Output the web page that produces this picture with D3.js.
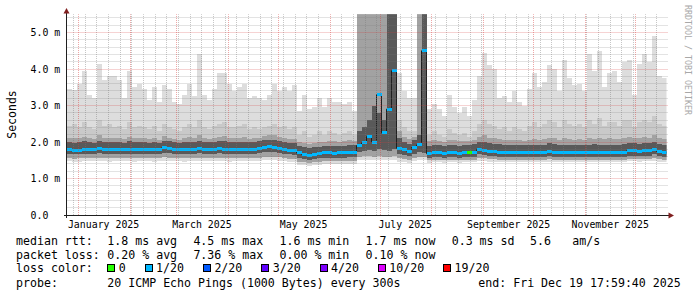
<!DOCTYPE html>
<html><head><meta charset="utf-8">
<script src="https://cdn.jsdelivr.net/npm/d3@7"></script>
<style>html,body{margin:0;padding:0;background:#fff;overflow:hidden}</style>
</head><body>
<svg id="c" width="697" height="297" xmlns="http://www.w3.org/2000/svg"></svg>
<script>
// ---------- DATA (3-day bins, 360 days ending at endTime) ----------
const endTimeUTC = [2025, 11, 19, 17, 59, 40];
const spanDays = 360, binDays = 3;

const maxR = [3.44,3.42,3.6,3.95,3.3,3.2,4.15,3.7,3.8,3.8, 3.7,3.2,3.94,3.5,3.6,3.45,3.15,3.5,3.1,3.55,
  3.45,3.1,3.05,3.3,3.6,3.25,4.4,3.3,3.15,3.45, 3.9,3.9,3.6,3.4,3.5,3.6,3.2,3.25,3.2,3.15,
  3.3,3.6,3.4,3.5,3.4,3.55,
  2.85,3.3,2.9,2.95,3.2,2.95,3.2,3.1,3.1,3.05,3.1,2.85,
  8,8,8,8,8,8,8,8,
  3.9,3.4,3.2,3.2,
  8,8,
  2.9,3.05,2.9,2.7,3.3,2.95,2.8,2.95,
  2.7,3.15,3.8,4.45,4.1,4.0,3.2,3.25,3.1,3.4,
  3.1,3.0,3.45,3.9,3.5,3.65,4.1,4.0,3.4,4.25,
  3.75,3.55,3.6,3.4,4.4,3.95,4.5,3.5,3.9,3.95,
  3.65,4.2,4.25,3.3,4.15,4.4,4.2,4.9,3.8,3.75];

const hiR = [2.45,2.5,2.4,2.55,2.4,2.35,2.6,2.45,2.5,2.4, 2.45,2.35,2.55,2.4,2.45,2.4,2.35,2.45,2.3,2.5,
  2.4,2.35,2.3,2.4,2.5,2.4,2.6,2.4,2.35,2.45, 2.5,2.55,2.4,2.4,2.45,2.5,2.35,2.4,2.35,2.4,
  2.45,2.5,2.4,2.45,2.35,2.4,
  2.2,2.3,2.15,2.2,2.3,2.2,2.3,2.25,2.2,2.25,2.3,2.2,
  8,8,8,8,8,8,8,8,
  2.6,2.4,2.3,2.3,
  8,8,
  2.2,2.3,2.2,2.15,2.35,2.25,2.2,2.25,
  2.15,2.3,2.5,2.6,2.5,2.45,2.35,2.4,2.3,2.4,
  2.35,2.3,2.45,2.55,2.4,2.5,2.6,2.55,2.4,2.6,
  2.5,2.45,2.5,2.4,2.6,2.5,2.65,2.45,2.55,2.55,
  2.45,2.6,2.6,2.4,2.55,2.6,2.55,2.7,2.5,2.45];

const midR = [2.12,2.1,2.1,2.15,2.1,2.08,2.18,2.12,2.12,2.1, 2.12,2.08,2.15,2.1,2.12,2.1,2.08,2.12,2.06,2.16,
  2.12,2.08,2.06,2.1,2.14,2.1,2.2,2.1,2.08,2.12, 2.15,2.16,2.1,2.1,2.12,2.14,2.08,2.1,2.12,2.16,
  2.18,2.18,2.14,2.12,2.08,2.08,
  2.0,1.98,1.95,1.98,2.0,2.0,2.02,2.02,2.0,2.02,2.05,2.04,
  8,8,8,8,8,8,8,8,
  2.3,2.15,2.08,2.15,
  8,8,
  2.02,2.05,2.04,2.0,2.06,2.05,2.02,2.04,
  2.02,2.06,2.15,2.18,2.12,2.1,2.07,2.05,2.05,2.06,
  2.05,2.04,2.06,2.08,2.06,2.08,2.12,2.1,2.06,2.1,
  2.08,2.06,2.08,2.06,2.1,2.08,2.12,2.08,2.1,2.08,
  2.08,2.1,2.14,2.12,2.12,2.14,2.12,2.18,2.1,2.08];

const upR = [2.0,1.98,2.0,2.02,2.0,1.98,2.03,2.0,2.0,1.99, 2.0,1.98,2.02,2.0,2.0,2.0,1.98,2.0,1.98,2.03,
  2.02,2.0,1.98,2.0,2.0,2.0,2.03,2.0,1.99,2.0, 2.02,2.02,2.0,2.0,2.0,2.01,2.0,2.0,2.02,2.05,
  2.06,2.05,2.03,2.0,1.98,1.97,
  1.9,1.86,1.84,1.86,1.87,1.88,1.9,1.9,1.88,1.9,1.92,1.92,
  2.3,2.4,2.6,3.0,2.8,2.6,8,8,
  2.1,2.0,1.95,2.05,
  2.2,8,
  1.9,1.92,1.92,1.9,1.92,1.92,1.9,1.92,
  1.92,1.94,2.0,2.0,1.96,1.95,1.94,1.92,1.92,1.92,
  1.92,1.92,1.92,1.92,1.92,1.93,1.96,1.94,1.93,1.92,
  1.92,1.93,1.93,1.93,1.93,1.94,1.92,1.93,1.93,1.92,
  1.93,1.94,1.96,1.96,1.95,1.96,1.96,2.0,1.95,1.93];

const medianR = [1.8,1.76,1.78,1.8,1.79,1.8,1.81,1.8,1.79,1.8, 1.8,1.8,1.8,1.79,1.8,1.8,1.8,1.79,1.8,1.84,
  1.82,1.8,1.8,1.79,1.8,1.8,1.81,1.8,1.8,1.8, 1.81,1.8,1.79,1.8,1.8,1.8,1.8,1.8,1.81,1.86,
  1.87,1.86,1.83,1.8,1.78,1.77,
  1.7,1.66,1.64,1.67,1.68,1.7,1.7,1.69,1.7,1.7,1.72,1.72,
  1.9,1.98,2.15,2.0,3.3,2.25,2.9,3.95,
  1.83,1.8,1.75,1.85,
  1.92,4.5,
  1.68,1.7,1.7,1.69,1.7,1.7,1.69,1.7,
  1.7,1.72,1.8,1.78,1.74,1.73,1.72,1.7,1.7,1.7,
  1.7,1.7,1.7,1.7,1.7,1.71,1.74,1.72,1.71,1.7,
  1.7,1.71,1.71,1.7,1.71,1.72,1.7,1.71,1.7,1.7,
  1.71,1.72,1.76,1.76,1.75,1.76,1.76,1.8,1.74,1.71];

const loR = [1.68,1.66,1.67,1.68,1.68,1.68,1.69,1.68,1.67,1.68, 1.68,1.68,1.68,1.67,1.68,1.68,1.68,1.67,1.68,1.7,
  1.69,1.68,1.68,1.67,1.68,1.68,1.69,1.68,1.68,1.68, 1.69,1.68,1.67,1.68,1.68,1.68,1.68,1.68,1.69,1.72,
  1.72,1.72,1.7,1.68,1.66,1.65,
  1.56,1.53,1.52,1.54,1.55,1.56,1.57,1.56,1.57,1.57,1.58,1.58,
  1.72,1.75,1.78,1.75,1.8,1.78,1.76,1.8,
  1.66,1.65,1.62,1.68,
  1.72,1.7,
  1.57,1.58,1.58,1.57,1.58,1.58,1.57,1.58,
  1.58,1.6,1.66,1.64,1.62,1.61,1.6,1.58,1.58,1.58,
  1.58,1.58,1.58,1.58,1.58,1.59,1.61,1.6,1.59,1.58,
  1.58,1.59,1.59,1.58,1.59,1.6,1.58,1.59,1.58,1.58,
  1.59,1.6,1.63,1.63,1.62,1.63,1.63,1.66,1.61,1.59];

const lowR = [1.56,1.54,1.55,1.56,1.56,1.56,1.57,1.56,1.55,1.56, 1.56,1.56,1.56,1.55,1.56,1.56,1.56,1.55,1.56,1.58,
  1.57,1.56,1.56,1.55,1.56,1.56,1.57,1.56,1.56,1.56, 1.57,1.56,1.55,1.56,1.56,1.56,1.56,1.56,1.57,1.6,
  1.6,1.6,1.58,1.56,1.54,1.53,
  1.46,1.44,1.43,1.45,1.46,1.47,1.48,1.47,1.48,1.48,1.49,1.49,
  1.6,1.62,1.62,1.6,1.62,1.6,1.6,1.62,
  1.55,1.54,1.52,1.56,
  1.58,1.58,
  1.5,1.51,1.51,1.5,1.51,1.51,1.5,1.51,
  1.51,1.52,1.56,1.55,1.53,1.53,1.52,1.51,1.51,1.51,
  1.51,1.51,1.51,1.51,1.51,1.52,1.53,1.52,1.52,1.51,
  1.51,1.52,1.52,1.51,1.52,1.52,1.51,1.52,1.51,1.51,
  1.52,1.52,1.54,1.54,1.53,1.54,1.54,1.56,1.53,1.52];

const minR = [1.47,1.45,1.46,1.47,1.47,1.47,1.48,1.47,1.46,1.47, 1.47,1.47,1.47,1.46,1.47,1.47,1.47,1.46,1.47,1.49,
  1.48,1.47,1.47,1.46,1.47,1.47,1.48,1.47,1.47,1.47, 1.48,1.47,1.46,1.47,1.47,1.47,1.47,1.47,1.48,1.5,
  1.5,1.5,1.49,1.47,1.45,1.44,
  1.38,1.36,1.35,1.37,1.38,1.39,1.4,1.39,1.4,1.4,1.41,1.41,
  1.5,1.52,1.52,1.5,1.5,1.5,1.5,1.52,
  1.46,1.45,1.43,1.47,
  1.5,1.5,
  1.43,1.44,1.44,1.43,1.44,1.44,1.43,1.44,
  1.44,1.45,1.48,1.47,1.46,1.46,1.45,1.44,1.44,1.44,
  1.44,1.44,1.44,1.44,1.44,1.45,1.46,1.45,1.45,1.44,
  1.44,1.45,1.45,1.44,1.45,1.45,1.44,1.45,1.44,1.44,
  1.45,1.45,1.47,1.47,1.46,1.47,1.47,1.49,1.46,1.45];

// average lost pings (of 20) per bin
const lossR = [0.04,0.04,0.02,0.04,0.06,0.04,0.04,0.02,0.04,0.04, 0.04,0.06,0.04,0.04,0.02,0.04,0.04,0.04,0.06,0.04,
  0.04,0.04,0.02,0.04,0.04,0.06,0.04,0.04,0.04,0.02, 0.04,0.04,0.04,0.06,0.04,0.04,0.02,0.04,0.04,0.04,
  0.06,0.04,0.04,0.04,0.02,0.04,
  0.04,0.04,0.06,0.04,0.04,0.02,0.04,0.04,0.04,0.06,0.04,0.04,
  0.3,0.4,0.5,0.6,0.9,0.5,0.7,0.8,
  0.06,0.04,0.04,0.06,
  0.4,0.8,
  0.04,0.04,0.02,0.04,0.04,0.06,0.04,0.04,
  0,0.04,0.06,0.04,0.04,0.02,0.04,0.04,0.04,0.06,
  0.04,0.04,0.02,0.04,0.04,0.04,0.06,0.04,0.04,0.02,
  0.04,0.04,0.04,0.06,0.04,0.04,0.02,0.04,0.04,0.04,
  0.06,0.04,0.04,0.04,0.02,0.04,0.04,0.06,0.04,0.04];

const yMajorTicks = [1, 2, 3, 4, 5];
const yTickValues = [0, 1, 2, 3, 4, 5];
const yTickLabels = ["0.0", "1.0 m", "2.0 m", "3.0 m", "4.0 m", "5.0 m"];
const monthLabels = ["January 2025", "March 2025", "May 2025", "July 2025", "September 2025", "November 2025"];

const lossThresholds = [0, 1, 2, 3, 4, 10, 19];
const lossLabels = ["0", "1/20", "2/20", "3/20", "4/20", "10/20", "19/20"];
const lossColors = ["#26ff00", "#00b8ff", "#0059ff", "#5e00ff", "#7e00ff", "#dd00ff", "#ff0000"];

const legendMedian = ["median rtt:", "1.8 ms avg", "4.5 ms max", "1.6 ms min", "1.7 ms now", "0.3 ms sd", "5.6", "am/s"];
const legendLoss = ["packet loss:", "0.20 % avg", "7.36 % max", "0.00 % min", "0.10 % now"];
const legendProbe = ["probe:", "20 ICMP Echo Pings (1000 Bytes) every 300s", "end: Fri Dec 19 17:59:40 2025"];
const legendLossTitle = "loss color:";
const yTitle = "Seconds";
const watermark = "RRDTOOL / TOBI OETIKER";

// ---------- DRAW ----------
const svg = d3.select("#c");
const MONO = "'DejaVu Sans Mono', 'Liberation Mono', monospace";
const X0 = 66.5, X1 = 666.5, YB = 215, YT = 14.25;
const DAY = 864e5;
const endTime = new Date(Date.UTC(...endTimeUTC));
const startTime = new Date(endTime.getTime() - spanDays * DAY);

const x = d3.scaleTime().domain([startTime, endTime]).range([X0, X1]);
const y = d3.scaleLinear().domain([0, 5.5]).range([YB, YT]);

svg.append("rect").attr("width", 697).attr("height", 297).attr("fill", "#ffffff");

const defs = svg.append("defs");
defs.append("clipPath").attr("id", "clip").append("rect")
  .attr("x", X0).attr("y", YT).attr("width", X1 - X0).attr("height", YB - YT);

const N = medianR.length;
const data = d3.range(N).map(i => ({
  t: new Date(startTime.getTime() + i * binDays * DAY),
  t2: new Date(Math.min(startTime.getTime() + (i + 1) * binDays * DAY, endTime.getTime())),
  max: maxR[i], hi: hiR[i], mid: midR[i], up: upR[i], med: medianR[i], lo: loR[i], low: lowR[i], min: minR[i], loss: lossR[i]
}));
const stepData = data.concat([Object.assign({}, data[N - 1], {t: endTime})]);

const plot = svg.append("g").attr("clip-path", "url(#clip)");
const cap = v => Math.min(v, 6);
function band(loKey, hiKey, color) {
  plot.append("path").datum(stepData)
    .attr("fill", color)
    .attr("shape-rendering", "crispEdges")
    .attr("d", d3.area().curve(d3.curveStepAfter)
      .x(d => x(d.t)).y0(d => y(d[loKey])).y1(d => y(cap(d[hiKey]))));
}
band("min", "max", "#dddddd");
band("low", "hi", "#c9c9c9");
band("low", "mid", "#a2a2a2");
band("lo", "up", "#595959");

// dark median line
plot.append("path").datum(stepData)
  .attr("fill", "none").attr("stroke", "#202020").attr("stroke-width", 1)
  .attr("d", d3.line().curve(d3.curveStepAfter).x(d => x(d.t)).y(d => y(cap(d.med))));

// loss-coloured median marks
function lossColor(l) {
  if (l <= lossThresholds[0]) return lossColors[0];
  for (let k = 1; k < lossThresholds.length; k++) {
    if (l <= lossThresholds[k]) return lossColors[k];
  }
  return lossColors[lossColors.length - 1];
}
plot.selectAll("rect.med").data(data).join("rect")
  .attr("class", "med")
  .attr("x", d => x(d.t)).attr("width", d => x(d.t2) - x(d.t))
  .attr("y", d => y(d.med) - 1.5).attr("height", 3)
  .attr("fill", d => lossColor(d.loss))
  .attr("shape-rendering", "crispEdges");

// ---------- GRID (drawn on top, as rrdtool does) ----------
const grid = svg.append("g");
const minorCol = "rgba(120,120,120,0.42)", majorCol = "rgba(215,60,60,0.45)";
const hy = v => Math.floor(y(v)) + 0.5;
const vx = d => Math.floor(x(d)) + 0.5;
const monthStarts = d3.utcMonth.range(d3.utcMonth.ceil(startTime), endTime);
const sundays = d3.utcSunday.range(d3.utcSunday.ceil(startTime), endTime)
  .filter(s => !monthStarts.some(m => Math.abs(vx(m) - vx(s)) < 1));
const minorY = d3.range(1, 28).map(k => k * 0.2).filter(v => Math.abs(v - Math.round(v)) > 1e-6);

grid.selectAll("line.hmin").data(minorY).join("line")
  .attr("x1", X0).attr("x2", X1 + 1.5).attr("y1", hy).attr("y2", hy)
  .attr("stroke", minorCol).attr("stroke-dasharray", "1,1");
grid.selectAll("line.vmin").data(sundays).join("line")
  .attr("x1", vx).attr("x2", vx).attr("y1", YB).attr("y2", YT)
  .attr("stroke", minorCol).attr("stroke-dasharray", "1,1");
grid.selectAll("line.hmaj").data(yMajorTicks).join("line")
  .attr("x1", X0).attr("x2", X1 + 1.5).attr("y1", hy).attr("y2", hy)
  .attr("stroke", majorCol).attr("stroke-dasharray", "1,1");
grid.selectAll("line.vmaj").data(monthStarts).join("line")
  .attr("x1", vx).attr("x2", vx).attr("y1", YB).attr("y2", YT)
  .attr("stroke", majorCol).attr("stroke-dasharray", "1,1");

// ---------- AXES ----------
const axisCol = "#1f1f1f", arrowCol = "#801f1f";
svg.append("line").attr("x1", 64).attr("x2", 670).attr("y1", 215.5).attr("y2", 215.5)
  .attr("stroke", axisCol).attr("stroke-width", 1);
svg.append("line").attr("x1", 66.5).attr("x2", 66.5).attr("y1", 218).attr("y2", 12)
  .attr("stroke", axisCol).attr("stroke-width", 1);
svg.append("path").attr("d", "M63.5,13.5 L69.5,13.5 L66.5,8 Z").attr("fill", arrowCol);
svg.append("path").attr("d", "M668.5,212.5 L668.5,218.5 L674,215.5 Z").attr("fill", arrowCol);

// y tick labels
svg.selectAll("text.ylab").data(yTickValues).join("text")
  .attr("x", 30.5).attr("y", v => y(v) + 3.6)
  .attr("font-family", MONO).attr("font-size", "9.9px").attr("fill", "#000")
  .text((v, i) => yTickLabels[i]);

// x month labels (centred mid-month)
const parseMonth = d3.utcParse("%B %Y");
svg.selectAll("text.xlab").data(monthLabels).join("text")
  .attr("x", l => x(new Date(parseMonth(l).getTime() + 15 * DAY)))
  .attr("y", 227.5).attr("text-anchor", "middle")
  .attr("font-family", MONO).attr("font-size", "9.9px").attr("fill", "#000")
  .text(l => l);

// y title
svg.append("text").attr("transform", "translate(15.5,114.5) rotate(-90)")
  .attr("text-anchor", "middle").attr("font-family", MONO).attr("font-size", "11.5px")
  .attr("fill", "#000").text(yTitle);

// watermark
svg.append("text").attr("transform", "translate(685,5) rotate(90)")
  .attr("font-family", MONO).attr("font-size", "8.3px").attr("fill", "#a8a8a8")
  .text(watermark);

// ---------- LEGEND ----------
const LF = "11.6px";
const colX = [16, 107.3, 193.4, 279.5, 365.6, 451.7, 530, 572.3];
function legendRow(items, xs, yb) {
  items.forEach((t, i) => {
    svg.append("text").attr("x", xs[i]).attr("y", yb)
      .attr("font-family", MONO).attr("font-size", LF).attr("fill", "#000")
      .style("white-space", "pre").text(t);
  });
}
legendRow(legendMedian, colX, 244.5);
legendRow(legendLoss, colX, 258.5);
legendRow(legendProbe, [16, 107.3, 478.3], 286.5);

svg.append("text").attr("x", 16).attr("y", 272)
  .attr("font-family", MONO).attr("font-size", LF).attr("fill", "#000").text(legendLossTitle);
let bx = 107.3;
lossLabels.forEach((lab, i) => {
  svg.append("rect").attr("x", Math.round(bx) + 0.5).attr("y", 264.5).attr("width", 7).attr("height", 7)
    .attr("fill", lossColors[i]).attr("stroke", "#000").attr("stroke-width", 1);
  svg.append("text").attr("x", bx + 11.5).attr("y", 272)
    .attr("font-family", MONO).attr("font-size", LF).attr("fill", "#000").text(lab);
  bx += 12 + lab.length * 7 + 18.3;
});
</script>
</body></html>
